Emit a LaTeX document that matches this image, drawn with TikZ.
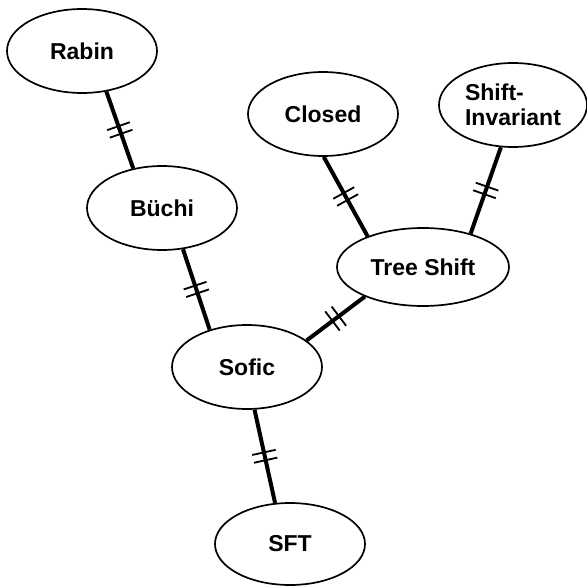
\documentclass[tikz,border=0pt]{standalone}
\usepackage{fontspec}
\setmainfont{Liberation Sans}
\usetikzlibrary{shapes.geometric,decorations.markings}
\tikzset{
  state/.style={ellipse, draw, line width=1.7pt, minimum width=150pt,
    minimum height=84pt, inner sep=0pt,
    font=\fontsize{23}{25}\selectfont\bfseries},
  link/.style={line width=4pt, postaction={decorate},
    decoration={markings, mark=at position 0.5 with {
      \draw[line width=1.8pt] (-4pt,-12pt) -- (-4pt,12pt)
                              (4pt,-12pt) -- (4pt,12pt);}}},
}
\begin{document}
\begin{tikzpicture}[x=1pt,y=-1pt]
  \useasboundingbox (0,0) rectangle (587,586);
  % lattice of classes
  \node[state] (rabin)    at (82,51)   {Rabin};
  \node[state] (buchi)    at (162,208) {Büchi};
  \node[state] (closed)   at (323,114) {Closed};
  \node[state, minimum width=148pt, align=left] (shiftinv) at (513,105) {Shift-\\Invariant};
  \node[state, minimum width=172pt, minimum height=78pt] (tree) at (423,267) {Tree Shift};
  \node[state] (sofic)    at (247,367) {Sofic};
  \node[state, minimum height=82pt] (sft) at (290,544) {SFT};
  % inclusions
  \draw[link] (rabin.-59)    -- (buchi.126);
  \draw[link] (buchi.-63)    -- (sofic.135);
  \draw[link] (sofic.24)     -- (tree.-153);
  \draw[link] (closed.-89)   -- (tree.151);
  \draw[link] (shiftinv.-106) -- (tree.35);
  \draw[link] (sofic.-80)    -- (sft.110);
\end{tikzpicture}
\end{document}
